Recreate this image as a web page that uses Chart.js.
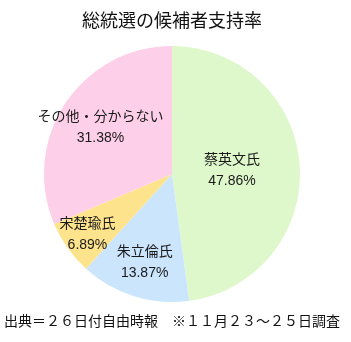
<!DOCTYPE html>
<html>
<head>
<meta charset="utf-8">
<script src="https://cdn.jsdelivr.net/npm/chart.js@4"></script>
<style>
  html, body { margin: 0; padding: 0; background: #fff; }
  #wrap { width: 351px; height: 342px; }
</style>
</head>
<body>
<div id="wrap"><canvas id="GraficoSupport"></canvas></div>
<script>
var candidatos = ["蔡英文氏", "朱立倫氏", "宋楚瑜氏", "その他・分からない"];
var porcentagens = [47.86, 13.87, 6.89, 31.38];
var cores = ["#dff8cb", "#cbe5fd", "#fee38d", "#fdcfe9"];

// where each label sits, as a fraction of the radius
var posicaoRotulo = [0.47, 0.72, 0.81, 0.67];

var rotulos = {
    id: "rotulos",
    afterDatasetsDraw: function (chart) {
        var ctx = chart.ctx;
        var arcos = chart.getDatasetMeta(0).data;
        ctx.save();
        ctx.font = "14px 'Liberation Sans', 'Noto Sans CJK JP', sans-serif";
        ctx.fillStyle = "#1a1a1a";
        ctx.textAlign = "center";
        ctx.textBaseline = "middle";
        arcos.forEach(function (arco, i) {
            var meio = (arco.startAngle + arco.endAngle) / 2;
            var r = arco.outerRadius * posicaoRotulo[i];
            var x = arco.x + Math.cos(meio) * r;
            var y = arco.y + Math.sin(meio) * r;
            ctx.fillText(candidatos[i], x, y - 10);
            ctx.fillText(porcentagens[i].toFixed(2) + "%", x, y + 11);
        });
        ctx.restore();
    }
};

new Chart(document.getElementById("GraficoSupport"), {
    type: "pie",
    data: {
        labels: candidatos,
        datasets: [{
            data: porcentagens,
            backgroundColor: cores,
            borderWidth: 0
        }]
    },
    options: {
        responsive: true,
        maintainAspectRatio: false,
        animation: false,
        layout: { padding: { left: 0, right: 7 } },
        plugins: {
            legend: { display: false },
            tooltip: { enabled: false },
            title: {
                display: true,
                text: "総統選の候補者支持率",
                color: "#111",
                font: { family: "'Noto Sans CJK JP', sans-serif", size: 18, weight: "normal" },
                padding: { top: 9, bottom: 15.4 }
            },
            subtitle: {
                display: true,
                position: "bottom",
                text: "出典＝２６日付自由時報　※１１月２３～２５日調査",
                color: "#111",
                font: { family: "'Noto Sans CJK JP', sans-serif", size: 14, weight: "normal" },
                padding: { top: 10.6, bottom: 12.6 }
            }
        }
    },
    plugins: [rotulos]
});
</script>
</body>
</html>
